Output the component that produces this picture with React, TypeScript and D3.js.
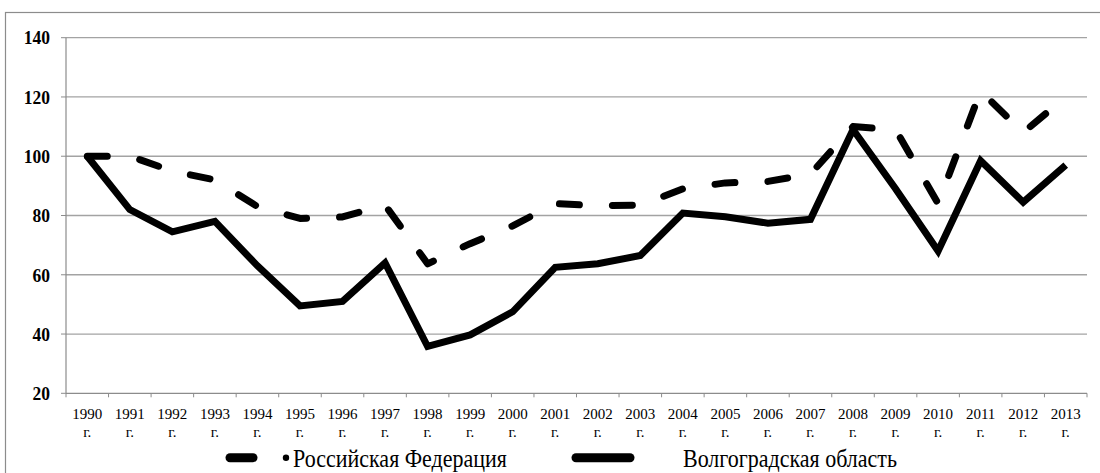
import React from 'react';
import * as d3 from 'd3';

const years = ['1990', '1991', '1992', '1993', '1994', '1995', '1996', '1997', '1998', '1999', '2000', '2001',
  '2002', '2003', '2004', '2005', '2006', '2007', '2008', '2009', '2010', '2011', '2012', '2013'];

const russia = [100, 100, 95, 92, 83, 79, 79.5, 83.5, 63.7, 70.5, 76.5, 84, 83.3, 83.5, 89, 91, 91.5, 94, 110, 109, 84, 122, 108, 120];
const volgograd = [100, 82, 74.5, 78, 63, 49.5, 51, 64, 35.8, 39.7, 47.5, 62.5, 63.7, 66.5, 80.8, 79.6, 77.4, 78.7, 109, 89, 68, 98.5, 84.5, 97];

const yTicks = [20, 40, 60, 80, 100, 120, 140];
const seriesNames = ['Российская Федерация', 'Волгоградская область'];

const W = 1100;
const H = 473;
const left = 66;
const right = 1087;
const top = 37.7;
const bottom = 393.3;

const serif = { fontFamily: "'Liberation Serif', 'Times New Roman', Times, serif" };
// the source picture is a little stretched vertically
const stretch = (tx, ty) => `translate(${tx},${ty}) scale(1,1.1)`;

const App = () => {
  const x = d3.scaleBand().domain(years).range([left, right]).padding(0);
  const y = d3.scaleLinear().domain([20, 140]).range([bottom, top]);
  const cx = (i) => x(years[i]) + x.bandwidth() / 2;

  const line = d3.line<number>()
    .x((d, i) => cx(i))
    .y(d => y(d));

  const boundaries = years.map(yr => x(yr)).concat([right]);

  return (
    <svg width={W} height={H} style={{ position: 'absolute', left: 0, top: 0, background: '#fff' }}>
      {/* outer chart frame, cut off on the right and bottom */}
      <rect x={5.5} y={12.5} width={W + 20} height={H + 20} fill="#fff" stroke="#8c8c8c" strokeWidth={1.2} />

      {/* grid */}
      {yTicks.map(t => (
        <g key={t}>
          {t > 20 && <line x1={left} x2={right} y1={y(t)} y2={y(t)} stroke="#a3a3a3" strokeWidth={1.3} />}
          <line x1={left - 5} x2={left} y1={y(t)} y2={y(t)} stroke="#8c8c8c" strokeWidth={1} />
          <text transform={stretch(50, y(t))} dy="0.35em" textAnchor="end" style={serif} fontWeight="bold" fontSize={17.5} fill="#000">{t}</text>
        </g>
      ))}

      {/* axes */}
      <line x1={left} x2={left} y1={top} y2={bottom} stroke="#8c8c8c" strokeWidth={1.2} />
      <line x1={left} x2={right} y1={bottom} y2={bottom} stroke="#8c8c8c" strokeWidth={1.2} />
      {boundaries.map((bx, i) => (
        <line key={i} x1={bx} x2={bx} y1={bottom} y2={bottom + 4} stroke="#8c8c8c" strokeWidth={1} />
      ))}
      {years.map((yr, i) => (
        <g key={yr} style={serif} fontSize={15} fill="#000" textAnchor="middle">
          <text x={cx(i)} y={419}>{yr}</text>
          <text x={cx(i)} y={436.5}>г.</text>
        </g>
      ))}

      {/* series */}
      <path d={line(volgograd)} fill="none" stroke="#000" strokeWidth={7} strokeLinejoin="miter" />
      <path d={line(russia)} fill="none" stroke="#000" strokeWidth={7} strokeDasharray="20 33" strokeLinecap="round" strokeLinejoin="round" />

      {/* legend */}
      <line x1={230} x2={253} y1={457.7} y2={457.7} stroke="#000" strokeWidth={9} strokeLinecap="round" />
      <circle cx={286} cy={457.7} r={3.2} fill="#000" />
      <text transform={stretch(293, 467)} style={serif} fontSize={22} fill="#000">{seriesNames[0]}</text>
      <line x1={576} x2={630} y1={457.7} y2={457.7} stroke="#000" strokeWidth={9} strokeLinecap="round" />
      <text transform={stretch(683, 467)} style={serif} fontSize={22} fill="#000">{seriesNames[1]}</text>
    </svg>
  );
};

export default App;
